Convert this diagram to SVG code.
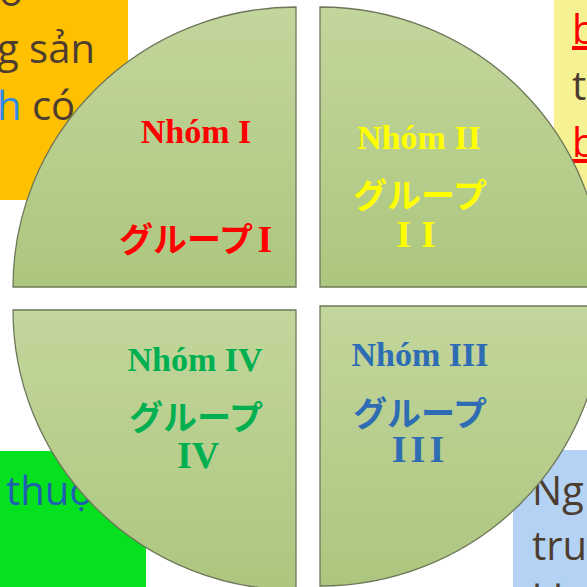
<svg xmlns="http://www.w3.org/2000/svg" width="587" height="587" viewBox="0 0 587 587">
  <defs>
    <linearGradient id="quadFill" x1="0" y1="0" x2="0" y2="1">
      <stop offset="0" stop-color="#c3d69c"/>
      <stop offset="1" stop-color="#acc67f"/>
    </linearGradient>
    <style>
      .quad { fill: url(#quadFill); stroke: #6f775a; stroke-width: 1.3; }
      .note { font-family: "Open Sans", "Noto Sans", sans-serif; font-size: 40px; fill: #4d3d30; }
      .title { font-family: "Liberation Serif", serif; font-weight: bold; font-size: 34px; text-anchor: middle; }
      .kana { font-family: "Noto Sans CJK JP", sans-serif; font-weight: bold; font-size: 34px; text-anchor: middle; }
      .num { font-family: "Liberation Serif", serif; font-weight: bold; font-size: 38px; text-anchor: middle; }
    </style>
  </defs>

  <!-- background note boxes -->
  <g id="note-top-left">
    <rect x="0" y="0" width="128" height="200" fill="#ffc000"/>
    <text class="note" x="-1" y="6">o</text>
    <text class="note" x="-3" y="63">g sản</text>
    <text class="note" x="-3" y="120"><tspan fill="#2e8ae6">h</tspan> có</text>
  </g>
  <g id="note-top-right">
    <rect x="554" y="0" width="33" height="190" fill="#f6f193"/>
    <text class="note" x="572" y="44" fill="#ff0000" text-decoration="underline" style="fill:#ff0000">b</text>
    <text class="note" x="572" y="100">t</text>
    <text class="note" x="572" y="157" text-decoration="underline" style="fill:#ff0000">b</text>
  </g>
  <g id="note-bottom-left">
    <rect x="0" y="451" width="146" height="136" fill="#05e11f"/>
    <text class="note" x="6" y="505" style="fill:#1f5fb0">thuộc</text>
  </g>
  <g id="note-bottom-right">
    <rect x="513" y="450" width="74" height="137" fill="#b3d2f4"/>
    <text class="note" x="532" y="505">Ng</text>
    <text class="note" x="532" y="560">tru</text>
    <text class="note" x="532" y="614">kh</text>
  </g>

  <!-- quadrants -->
  <g id="group-1">
    <path class="quad" d="M296,287 L13,287 A283,280 0 0 1 296,7 Z"/>
    <text class="title" x="196" y="143" fill="#ff0000">Nhóm I</text>
    <text x="194" y="252" fill="#ff0000"><tspan class="kana" x="186">グループ</tspan><tspan class="num" x="265" style="font-size:38px">I</tspan></text>
  </g>
  <g id="group-2">
    <path class="quad" d="M320,287 L320,7 A283,280 0 0 1 603,287 Z"/>
    <text class="title" x="419" y="149" fill="#ffff00">Nhóm II</text>
    <text class="kana" x="420" y="208" fill="#ffff00">グループ</text>
    <text class="num" x="421" y="247" fill="#ffff00" letter-spacing="10">II</text>
  </g>
  <g id="group-3">
    <path class="quad" d="M320,306 L603,306 A283,280 0 0 1 320,586 Z"/>
    <text class="title" x="420" y="366" fill="#2e6db4">Nhóm III</text>
    <text class="kana" x="420" y="426" fill="#2e6db4">グループ</text>
    <text class="num" x="420" y="462" fill="#2e6db4" letter-spacing="4">III</text>
  </g>
  <g id="group-4">
    <path class="quad" d="M296,310 L13,310 A283,280 0 0 0 296,590 Z"/>
    <text class="title" x="195" y="371" fill="#00b050">Nhóm IV</text>
    <text class="kana" x="196" y="430" fill="#00b050">グループ</text>
    <text class="num" x="198" y="468" fill="#00b050">IV</text>
  </g>
</svg>
